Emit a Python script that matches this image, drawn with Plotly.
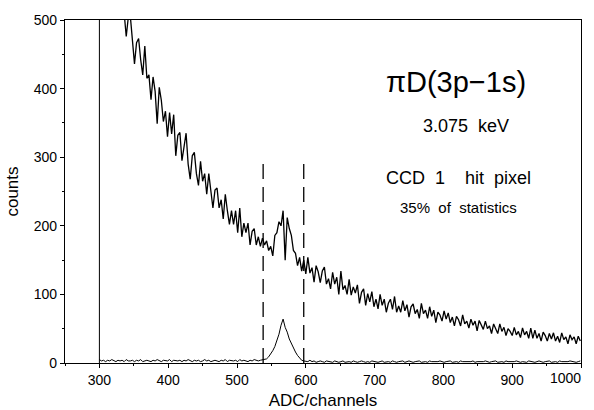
import plotly.graph_objects as go

# ---- data ----
channels = list(range(300, 1000, 3))

counts_all = [
    # 300-333
    700, 668, 676, 642, 620, 612, 584, 580, 552, 548, 528, 520,
    # 336-399
    510, 476, 504, 505, 464, 436, 467, 473, 442, 420, 462, 415, 420, 384, 417, 396, 349, 402, 383, 352, 367, 330,
    # 402-450
    365, 334, 362, 302, 332, 336, 295, 315, 335, 290, 268, 302, 307, 276, 259, 294, 265,
    # 453-501
    276, 246, 276, 248, 226, 252, 255, 226, 238, 210, 246, 222, 202, 222, 202, 222, 190,
    # 504-537
    226, 184, 204, 190, 204, 172, 192, 196, 172, 184, 170, 182,
    # 540-597
    172, 178, 164, 170, 156, 186, 190, 206, 200, 222, 150, 212, 196, 186, 164, 160, 142, 154, 134, 150,
    # 600-699
    130, 154, 131, 139, 118, 142, 133, 117, 134, 140, 115, 123, 108, 132, 115, 125, 100, 134, 107, 113,
    100, 122, 99, 111, 102, 114, 87, 103, 108, 84, 101, 89, 104, 82,
    # 702-801
    93, 79, 100, 84, 93, 74, 87, 93, 78, 97, 74, 83, 74, 91, 76, 85, 67, 82, 86, 72,
    78, 65, 87, 72, 77, 65, 82, 68, 77, 59, 74, 70, 61, 76,
    # 804-900
    64, 73, 59, 67, 54, 68, 63, 54, 70, 57, 61, 51, 64, 55, 61, 47, 62, 54, 49, 61,
    50, 54, 43, 57, 51, 43, 57, 46, 52, 40, 50, 46, 40,
    # 903-999
    52, 41, 46, 37, 51, 41, 46, 36, 51, 36, 48, 36, 43, 32, 45, 40, 32, 43, 35, 44,
    32, 39, 30, 44, 34, 38, 28, 41, 34, 38, 28, 39, 32,
]

counts_hit = [
    5, 3, 4, 2, 4, 3, 5, 3, 2, 4, 3, 4, 2, 5, 3, 3, 4, 2, 4, 3,
    5, 2, 3, 4, 3, 2, 4, 3, 5, 3, 2, 4, 3, 3, 5, 2, 4, 3, 3, 4,
    2, 4, 3, 5, 3, 2, 4, 3, 4, 2, 3, 5, 3, 4, 2, 3, 4, 3, 2, 4,
    3, 5, 2, 4, 3, 3, 4, 2, 5, 3, 4, 3, 2, 4, 3, 5, 4, 3, 4, 5,
    5, 6, 9, 13, 18, 24, 33, 42, 55, 64, 52, 45, 35, 28, 22, 16, 11, 7, 4, 3,
    3, 2, 4, 2, 3, 1, 2, 3, 2, 1, 3, 2, 2, 1, 3, 2, 1, 2, 3, 1,
    2, 2, 1, 3, 2, 1, 2, 3, 2, 1, 2, 1, 3, 2, 2, 1, 2, 3, 1, 2,
    2, 1, 3, 2, 1, 2, 2, 3, 1, 2, 3, 2, 1, 2, 2, 3, 1, 2, 2, 1,
    3, 2, 2, 1, 2, 3, 2, 1, 2, 2, 3, 1, 2, 2, 1, 3, 2, 2, 1, 2,
    2, 3, 1, 2, 2, 1, 2, 3, 2, 1, 2, 2, 3, 1, 2, 2, 1, 3, 2, 2,
    1, 2, 3, 2, 1, 2, 2, 1, 3, 2, 2, 1, 2, 3, 2, 1, 2, 2, 3, 1,
    2, 2, 1, 3, 2, 2, 1, 2, 3, 2, 2, 1, 2, 3,
]

threshold_channel = 300
window_channels = [538, 597]
window_top = 300

x_ticks = [300, 400, 500, 600, 700, 800, 900, 1000]
x_ticktext = ["300", "400", "500", "600", "700", "800", "900", ""]
last_x_label = "1000"
y_ticks = [0, 100, 200, 300, 400, 500]

assert len(counts_all) == len(channels), len(counts_all)
assert len(counts_hit) == len(channels), len(counts_hit)

FONT = "Liberation Sans, Arial, sans-serif"

fig = go.Figure()
fig.add_trace(go.Scatter(x=channels, y=counts_all, mode="lines",
                         line=dict(color="black", width=1.3), showlegend=False))
fig.add_trace(go.Scatter(x=channels, y=counts_hit, mode="lines",
                         line=dict(color="black", width=1.0), showlegend=False))

fig.add_shape(type="line", xref="x", yref="y", x0=threshold_channel, x1=threshold_channel,
              y0=0, y1=500, line=dict(color="black", width=1))
for wc in window_channels:
    fig.add_shape(type="line", xref="x", yref="y", x0=wc, x1=wc, y0=0, y1=window_top,
                  line=dict(color="black", width=1.3, dash="15px,8px"))

annotations = [
    dict(x=819, y=409, text="πD(3p−1s)", size=29),
    dict(x=833, y=346, text="3.075  keV", size=18),
    dict(x=822, y=269, text="CCD  1    hit  pixel", size=18),
    dict(x=822, y=227, text="35%  of  statistics", size=15),
]
for a in annotations:
    fig.add_annotation(x=a["x"], y=a["y"], xref="x", yref="y", text=a["text"], showarrow=False,
                       xanchor="center", yanchor="middle",
                       font=dict(family=FONT, size=a["size"], color="black"))

# last tick label, right-aligned to its tick as in the original
fig.add_annotation(x=x_ticks[-1], y=0, xref="x", yref="y", text=last_x_label, showarrow=False,
                   xanchor="right", yanchor="top", yshift=-5, xshift=2,
                   font=dict(family=FONT, size=14, color="black"))

fig.update_xaxes(range=[250, 1000], tickvals=x_ticks, ticktext=x_ticktext, ticks="outside",
                 ticklen=4, tickwidth=1, automargin=False,
                 tickcolor="black", showline=True, linecolor="black", linewidth=1.2, mirror=True,
                 showgrid=False, zeroline=False,
                 minor=dict(dtick=50, ticks="outside", ticklen=2, tickcolor="black"),
                 tickfont=dict(family=FONT, size=14, color="black"),
                 title=dict(text="ADC/channels", font=dict(family=FONT, size=17, color="black"), standoff=10))
fig.update_yaxes(range=[0, 500], tickvals=y_ticks, ticks="outside", ticklen=4, tickwidth=1,
                 automargin=False,
                 tickcolor="black", showline=True, linecolor="black", linewidth=1.2, mirror=True,
                 showgrid=False, zeroline=False,
                 minor=dict(dtick=50, ticks="outside", ticklen=2, tickcolor="black"),
                 tickfont=dict(family=FONT, size=14, color="black"),
                 title=dict(text="counts", font=dict(family=FONT, size=17, color="black"), standoff=10))

fig.update_layout(width=594, height=410, margin=dict(l=65, r=13, t=20, b=47),
                  paper_bgcolor="white", plot_bgcolor="white", showlegend=False)

fig.write_html("out.html")
